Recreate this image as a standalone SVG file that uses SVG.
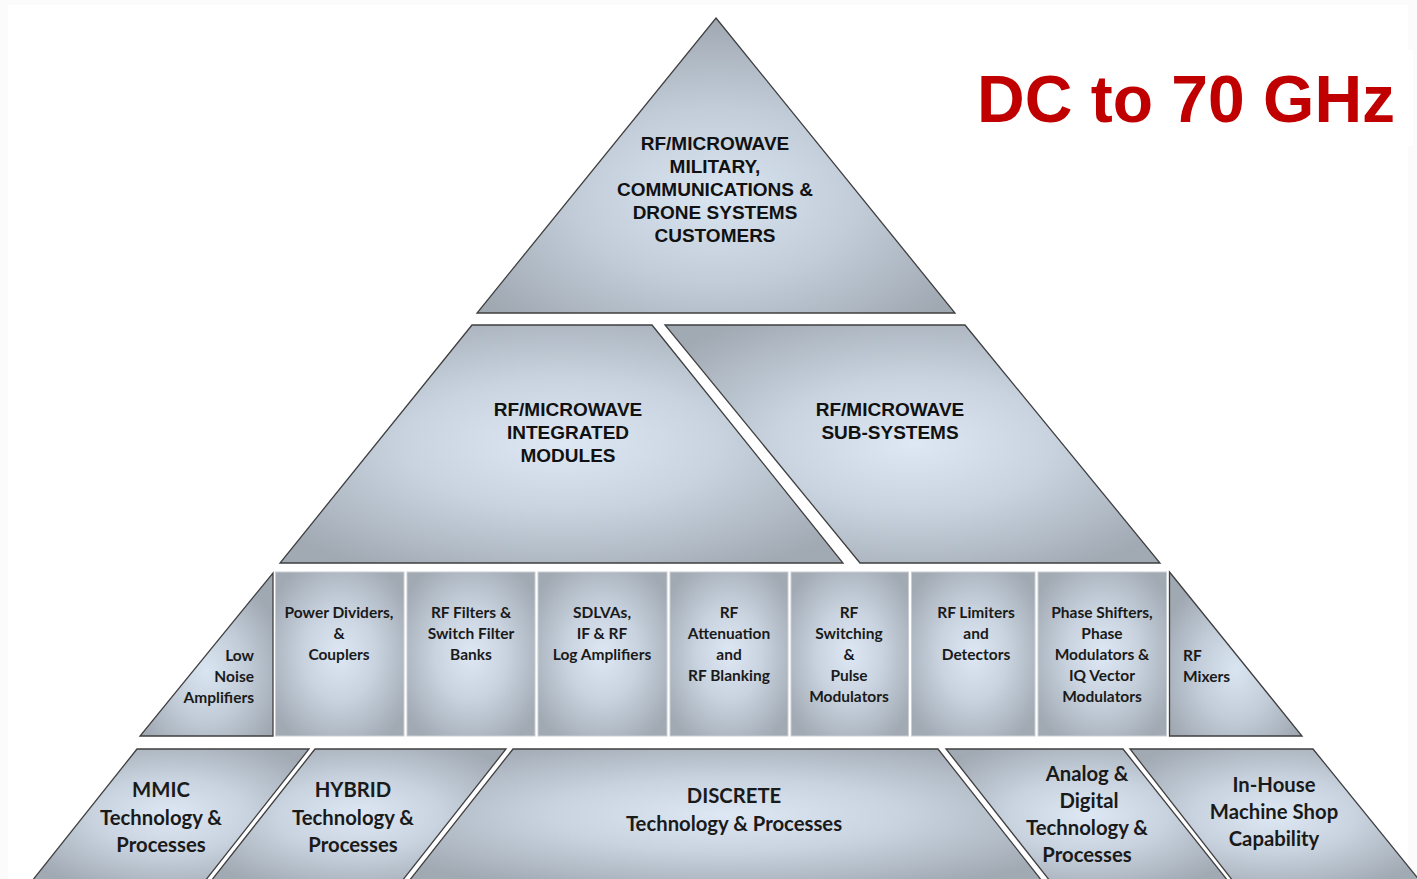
<svg xmlns="http://www.w3.org/2000/svg" width="1417" height="879" viewBox="0 0 1417 879">
<defs>
<radialGradient id="pillow" cx="0.5" cy="0.5" r="0.62">
<stop offset="0" stop-color="#dde8f4"/>
<stop offset="0.45" stop-color="#c8d3df"/>
<stop offset="1" stop-color="#a1a9b3"/>
</radialGradient>
<radialGradient id="pillowTri" cx="0.5" cy="0.6" r="0.6">
<stop offset="0" stop-color="#d9e5f1"/>
<stop offset="0.5" stop-color="#c1ccd8"/>
<stop offset="1" stop-color="#a0a8b2"/>
</radialGradient>
<style>
.shape{stroke:#3f3f3f;stroke-width:1.3;stroke-linejoin:miter}
.box{stroke:#c9ced4;stroke-width:1}
.hd{font-family:"Liberation Sans",Arial,sans-serif;font-weight:bold;font-size:19px;fill:#111;text-anchor:middle}
.sm{font-family:Lato,"Open Sans",sans-serif;font-weight:bold;font-size:15.5px;fill:#1a1a1a;text-anchor:middle}
.bg{font-family:Lato,"Open Sans",sans-serif;font-weight:bold;font-size:20.3px;fill:#1a1a1a;text-anchor:middle}
.title{font-family:"Liberation Sans",Arial,sans-serif;font-weight:bold;font-size:66px;fill:#c00000}
</style>
</defs>
<rect width="1417" height="879" fill="#fbfbfb"/>
<rect x="8" y="5" width="1400" height="874" fill="#ffffff"/>

<g id="title">
<rect x="955" y="50" width="458" height="96" fill="#ffffff"/>
<text class="title" x="977" y="122">DC to 70 GHz</text>
</g>

<g id="customers">
<polygon class="shape" points="716,18 955,313 477,313" fill="url(#pillowTri)"/>
<text class="hd" x="715" y="150">RF/MICROWAVE</text>
<text class="hd" x="715" y="173">MILITARY,</text>
<text class="hd" x="715" y="196">COMMUNICATIONS &amp;</text>
<text class="hd" x="715" y="219">DRONE SYSTEMS</text>
<text class="hd" x="715" y="242">CUSTOMERS</text>
</g>

<g id="modules">
<polygon class="shape" points="472,325 652,325 843,563 280,563" fill="url(#pillow)"/>
<text class="hd" x="568" y="416">RF/MICROWAVE</text>
<text class="hd" x="568" y="439">INTEGRATED</text>
<text class="hd" x="568" y="462">MODULES</text>
</g>

<g id="subsystems">
<polygon class="shape" points="665,325 965,325 1160,563 860,563" fill="url(#pillow)"/>
<text class="hd" x="890" y="416">RF/MICROWAVE</text>
<text class="hd" x="890" y="439">SUB-SYSTEMS</text>
</g>

<g id="lna">
<polygon class="shape" points="273,573 273,736 140,736" fill="url(#pillowTri)"/>
<text class="sm" x="254" y="661" style="text-anchor:end">Low</text>
<text class="sm" x="254" y="682" style="text-anchor:end">Noise</text>
<text class="sm" x="254" y="703" style="text-anchor:end">Amplifiers</text>
</g>

<g id="dividers">
<rect class="box" x="275.5" y="572" width="128.5" height="164" fill="url(#pillow)"/>
<text class="sm" x="339" y="618">Power Dividers,</text>
<text class="sm" x="339" y="639">&amp;</text>
<text class="sm" x="339" y="660">Couplers</text>
</g>

<g id="filters">
<rect class="box" x="407" y="572" width="128" height="164" fill="url(#pillow)"/>
<text class="sm" x="471" y="618">RF Filters &amp;</text>
<text class="sm" x="471" y="639">Switch Filter</text>
<text class="sm" x="471" y="660">Banks</text>
</g>

<g id="sdlva">
<rect class="box" x="538" y="572" width="129" height="164" fill="url(#pillow)"/>
<text class="sm" x="602" y="618">SDLVAs,</text>
<text class="sm" x="602" y="639">IF &amp; RF</text>
<text class="sm" x="602" y="660">Log Amplifiers</text>
</g>

<g id="attenuation">
<rect class="box" x="670" y="572" width="118" height="164" fill="url(#pillow)"/>
<text class="sm" x="729" y="618">RF</text>
<text class="sm" x="729" y="639">Attenuation</text>
<text class="sm" x="729" y="660">and</text>
<text class="sm" x="729" y="681">RF Blanking</text>
</g>

<g id="switching">
<rect class="box" x="791" y="572" width="117.5" height="164" fill="url(#pillow)"/>
<text class="sm" x="849" y="618">RF</text>
<text class="sm" x="849" y="639">Switching</text>
<text class="sm" x="849" y="660">&amp;</text>
<text class="sm" x="849" y="681">Pulse</text>
<text class="sm" x="849" y="702">Modulators</text>
</g>

<g id="limiters">
<rect class="box" x="911.5" y="572" width="123.5" height="164" fill="url(#pillow)"/>
<text class="sm" x="976" y="618">RF Limiters</text>
<text class="sm" x="976" y="639">and</text>
<text class="sm" x="976" y="660">Detectors</text>
</g>

<g id="phase">
<rect class="box" x="1038" y="572" width="128.5" height="164" fill="url(#pillow)"/>
<text class="sm" x="1102" y="618">Phase Shifters,</text>
<text class="sm" x="1102" y="639">Phase</text>
<text class="sm" x="1102" y="660">Modulators &amp;</text>
<text class="sm" x="1102" y="681">IQ Vector</text>
<text class="sm" x="1102" y="702">Modulators</text>
</g>

<g id="mixers">
<polygon class="shape" points="1169.5,572 1302,736 1169.5,736" fill="url(#pillowTri)"/>
<text class="sm" x="1183" y="661" style="text-anchor:start">RF</text>
<text class="sm" x="1183" y="682" style="text-anchor:start">Mixers</text>
</g>

<g id="mmic">
<polygon class="shape" points="137,749 309,749 205,881 32,881" fill="url(#pillow)"/>
<text class="bg" x="161" y="797">MMIC</text>
<text class="bg" x="161" y="825">Technology &amp;</text>
<text class="bg" x="161" y="852">Processes</text>
</g>

<g id="hybrid">
<polygon class="shape" points="315,749 506,749 402,881 211,881" fill="url(#pillow)"/>
<text class="bg" x="353" y="797">HYBRID</text>
<text class="bg" x="353" y="825">Technology &amp;</text>
<text class="bg" x="353" y="852">Processes</text>
</g>

<g id="discrete">
<polygon class="shape" points="513,749 938,749 1042,881 409,881" fill="url(#pillow)"/>
<text class="bg" x="734" y="803">DISCRETE</text>
<text class="bg" x="734" y="831">Technology &amp; Processes</text>
</g>

<g id="analog">
<polygon class="shape" points="946,749 1123,749 1228,881 1050,881" fill="url(#pillow)"/>
<text class="bg" x="1087" y="781">Analog &amp;</text>
<text class="bg" x="1089" y="808">Digital</text>
<text class="bg" x="1087" y="835">Technology &amp;</text>
<text class="bg" x="1087" y="862">Processes</text>
</g>

<g id="machineshop">
<polygon class="shape" points="1130,749 1313,749 1420,881 1233,881" fill="url(#pillow)"/>
<text class="bg" x="1274" y="792">In-House</text>
<text class="bg" x="1274" y="819">Machine Shop</text>
<text class="bg" x="1274" y="846">Capability</text>
</g>
</svg>
